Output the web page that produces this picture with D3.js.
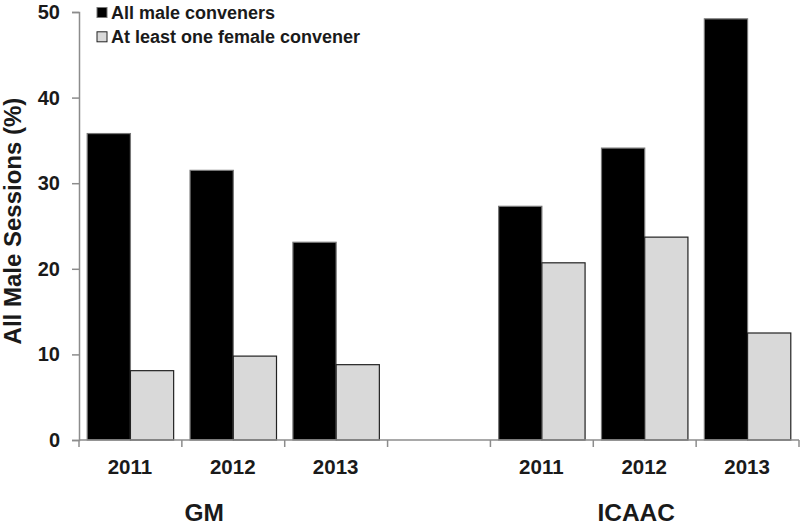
<!DOCTYPE html>
<html>
<head>
<meta charset="utf-8">
<script src="https://cdn.jsdelivr.net/npm/d3@7"></script>
<style>
  body { margin: 0; background: #fff; }
  svg { display: block; font-family: "Liberation Sans", Arial, sans-serif; }
</style>
</head>
<body>
<svg id="chart" width="800" height="531"></svg>
<script>
const groups = ["GM", "ICAAC"];
const years = ["2011", "2012", "2013"];
const seriesNames = ["All male conveners", "At least one female convener"];
const allMale = { GM: [35.8, 31.5, 23.1], ICAAC: [27.3, 34.1, 49.2] };
const femaleConvener = { GM: [8.1, 9.8, 8.8], ICAAC: [20.7, 23.7, 12.5] };
const yTicks = [0, 10, 20, 30, 40, 50];
const yTitle = "All Male Sessions (%)";

(function () {
const svg = d3.select("#chart");
const mLeft = 79, mRight = 799, mTop = 12, mBottom = 440;

const slots = [];
groups.forEach((g, gi) => {
  years.forEach(y => slots.push(g + "|" + y));
  if (gi < groups.length - 1) slots.push("gap" + gi);
});

const x = d3.scaleBand().domain(slots).range([mLeft, mRight]).padding(0);
const xi = d3.scaleBand().domain(seriesNames).range([0, x.bandwidth()]).paddingInner(0).paddingOuter(0.19);
const y = d3.scaleLinear().domain([0, 50]).range([mBottom, mTop]);

const colors = { "All male conveners": "#000000", "At least one female convener": "#d9d9d9" };
const strokes = { "All male conveners": "#777777", "At least one female convener": "#222222" };

const data = [];
groups.forEach(g => {
  years.forEach((yr, i) => {
    data.push({ slot: g + "|" + yr, series: seriesNames[0], value: allMale[g][i] });
    data.push({ slot: g + "|" + yr, series: seriesNames[1], value: femaleConvener[g][i] });
  });
});

// bars
svg.append("g").selectAll("rect").data(data).join("rect")
  .attr("x", d => x(d.slot) + xi(d.series))
  .attr("y", d => y(d.value))
  .attr("width", xi.bandwidth())
  .attr("height", d => y(0) - y(d.value))
  .attr("fill", d => colors[d.series])
  .attr("stroke", d => strokes[d.series])
  .attr("stroke-width", 1.2);

// y axis
const yAxis = svg.append("g").attr("transform", `translate(${mLeft},0)`)
  .call(d3.axisLeft(y).tickValues(yTicks).tickSize(7).tickPadding(12).tickFormat(d3.format("d")));
yAxis.select(".domain").attr("stroke", "#8c8c8c").attr("stroke-width", 1.5);
yAxis.selectAll(".tick line").attr("stroke", "#8c8c8c").attr("stroke-width", 1.5);
yAxis.selectAll(".tick text").attr("font-size", 20).attr("font-weight", "bold").attr("fill", "#1a1a1a")
  .attr("font-family", "'Liberation Sans', Arial, sans-serif");

// x axis line and ticks at slot boundaries
const xg = svg.append("g");
xg.append("line").attr("x1", mLeft).attr("x2", mRight).attr("y1", mBottom).attr("y2", mBottom)
  .attr("stroke", "#8c8c8c").attr("stroke-width", 1.5);
const bounds = slots.map(s => x(s)).concat([x(slots[slots.length - 1]) + x.step()]);
xg.selectAll("line.tk").data(bounds).join("line").attr("class", "tk")
  .attr("x1", d => d).attr("x2", d => d).attr("y1", mBottom).attr("y2", mBottom + 7)
  .attr("stroke", "#8c8c8c").attr("stroke-width", 1.5);
xg.selectAll("text.yr").data(slots.filter(s => !s.startsWith("gap"))).join("text").attr("class", "yr")
  .attr("x", d => x(d) + x.bandwidth() / 2 - 0.5)
  .attr("y", 474)
  .attr("text-anchor", "middle")
  .attr("font-size", 20.5).attr("font-weight", "bold").attr("fill", "#1a1a1a")
  .text(d => d.split("|")[1]);

// group labels
const groupOffsets = { GM: -29, ICAAC: -8.5 };
svg.selectAll("text.grp").data(groups).join("text").attr("class", "grp")
  .attr("x", g => x(g + "|2012") + x.bandwidth() / 2 + groupOffsets[g])
  .attr("y", 521)
  .attr("text-anchor", "middle")
  .attr("font-size", 24.5).attr("font-weight", "bold").attr("fill", "#1a1a1a")
  .text(g => g);

// y title
svg.append("text")
  .attr("transform", `translate(21,221) rotate(-90)`)
  .attr("text-anchor", "middle")
  .attr("font-size", 24).attr("font-weight", "bold").attr("fill", "#1a1a1a")
  .text(yTitle);

// legend
const lg = svg.append("g").attr("transform", "translate(97,7.5)");
seriesNames.forEach((s, i) => {
  const row = lg.append("g").attr("transform", `translate(0,${i * 24.3})`);
  row.append("rect").attr("x", 0).attr("y", 0).attr("width", 10).attr("height", 10)
    .attr("fill", colors[s]).attr("stroke", strokes[s]).attr("stroke-width", 1);
  row.append("text").attr("x", 14).attr("y", 11.5)
    .attr("font-size", 18).attr("font-weight", "bold").attr("fill", "#1a1a1a")
    .text(s);
});
})();
</script>
</body>
</html>
